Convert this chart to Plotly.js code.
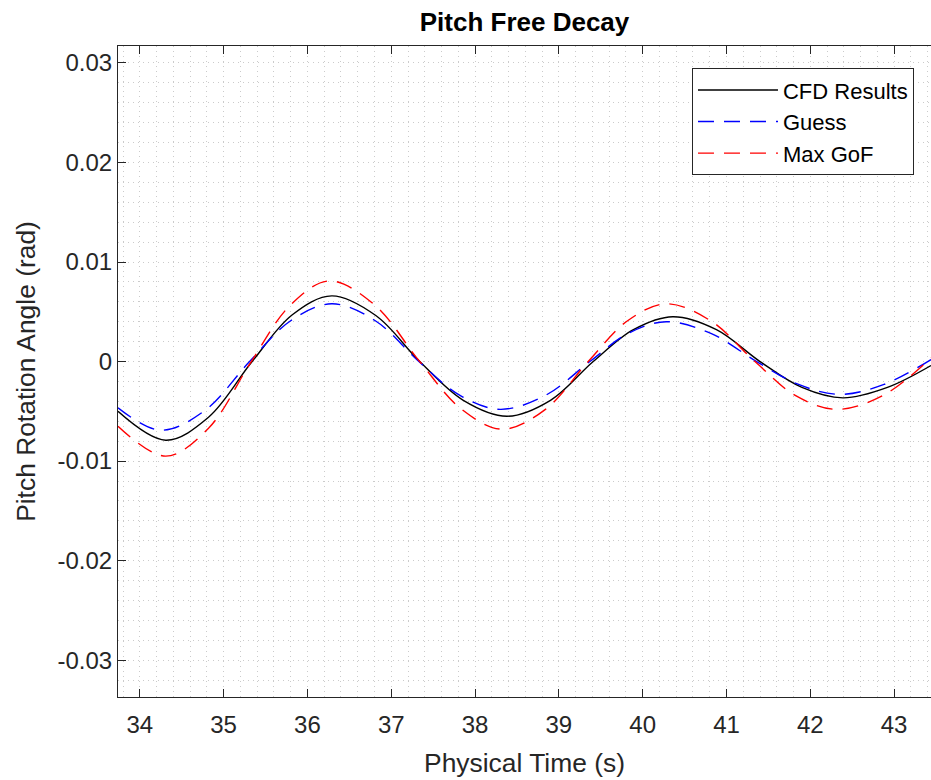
<!DOCTYPE html>
<html>
<head>
<meta charset="utf-8">
<script src="https://cdn.plot.ly/plotly-3.0.1.min.js"></script>
<style>html,body{margin:0;padding:0;background:#fff;}#chart{width:931px;height:780px;}</style>
</head>
<body>
<div id="chart"></div>
<script>
// Key points (time in s, angle in rad)
const tCFD = [33.74, 34.31, 34.82, 35.34, 35.82, 36.29, 36.82, 37.34, 37.86, 38.38, 38.90, 39.41, 39.89, 40.36, 40.88, 41.40, 41.90, 42.39, 42.92, 43.44];
const yCFD = [-0.0050, -0.0079, -0.0056, 0.0, 0.0047, 0.0066, 0.0046, 0.0, -0.0039, -0.0055, -0.0039, 0.0, 0.0032, 0.0045, 0.0032, 0.0, -0.0026, -0.00365, -0.0026, -0.0004];

const tGuess = [33.74, 34.25, 34.78, 35.31, 35.80, 36.29, 36.81, 37.33, 37.82, 38.30, 38.84, 39.37, 39.82, 40.28, 40.82, 41.36, 41.86, 42.35, 42.88, 43.44];
const yGuess = [-0.00465, -0.0069, -0.0049, 0.0, 0.0041, 0.0058, 0.0041, 0.0, -0.0034, -0.0048, -0.0034, 0.0, 0.0028, 0.0040, 0.0028, 0.0, -0.0023, -0.0033, -0.0023, 0.0002];

const tGoF = [33.74, 34.31, 34.82, 35.33, 35.80, 36.26, 36.80, 37.34, 37.84, 38.33, 38.84, 39.35, 39.82, 40.28, 40.81, 41.34, 41.82, 42.31, 42.87, 43.44];
const yGoF = [-0.0065, -0.0095, -0.0067, 0.0, 0.0057, 0.0081, 0.0057, 0.0, -0.0048, -0.0068, -0.0048, 0.0, 0.0041, 0.0058, 0.0041, 0.0, -0.0034, -0.0048, -0.0034, 0.00037];

const seriesNames = ["CFD Results", "Guess", "Max GoF"];

const xTickVals = [34, 35, 36, 37, 38, 39, 40, 41, 42, 43];
const xTickText = ["34", "35", "36", "37", "38", "39", "40", "41", "42", "43"];
const yTickVals = [-0.03, -0.02, -0.01, 0, 0.01, 0.02, 0.03];
const yTickText = ["-0.03", "-0.02", "-0.01", "0", "0.01", "0.02", "0.03"];

const FONT = "Liberation Sans, Arial, Helvetica, sans-serif";
const AX = "#262626";
const GRID = "#cbcbcb";
const DOTS = "1px,4px";

const traces = [
  {x: tCFD, y: yCFD, name: seriesNames[0], mode: "lines",
   line: {color: "#000000", width: 1.4, shape: "spline", smoothing: 1}},
  {x: tGuess, y: yGuess, name: seriesNames[1], mode: "lines",
   line: {color: "#0000ff", width: 1.4, dash: "16px,10px", shape: "spline", smoothing: 1}},
  {x: tGoF, y: yGoF, name: seriesNames[2], mode: "lines",
   line: {color: "#ff0000", width: 1.4, dash: "16px,10px", shape: "spline", smoothing: 1}}
];

const layout = {
  width: 931, height: 780,
  margin: {l: 118, r: 0, t: 46, b: 83, pad: 0},
  paper_bgcolor: "#ffffff", plot_bgcolor: "#ffffff",
  font: {family: FONT, color: AX, size: 24},
  title: {text: "<b>Pitch Free Decay</b>", font: {family: FONT, size: 26, color: "#000"},
          x: 0.5, xref: "paper", xanchor: "center", y: 1 - 22/780, yref: "container", yanchor: "middle"},
  showlegend: true,
  legend: {x: 0.706, y: 0.966, xanchor: "left", yanchor: "top",
           bgcolor: "#ffffff", bordercolor: AX, borderwidth: 1,
           font: {family: FONT, size: 22, color: "#000"}, itemwidth: 80, tracegroupgap: 0},
  xaxis: {
    range: [33.74, 43.44], tickmode: "array", tickvals: xTickVals, ticktext: xTickText,
    ticks: "inside", ticklen: 8, tickcolor: AX, tickwidth: 1, ticklabelstandoff: 6,
    showline: true, linecolor: AX, linewidth: 1, mirror: "ticks",
    showgrid: true, gridcolor: GRID, griddash: DOTS, gridwidth: 1, zeroline: false,
    tickfont: {family: FONT, size: 24, color: AX},
    title: {text: "Physical Time (s)", font: {family: FONT, size: 26.4, color: AX}, standoff: 16},
    minor: {tickmode: "linear", tick0: 0, dtick: 0.2, showgrid: true, gridcolor: GRID, griddash: DOTS, gridwidth: 1, ticks: ""}
  },
  yaxis: {
    range: [-0.0337, 0.0317], tickmode: "array", tickvals: yTickVals, ticktext: yTickText,
    ticks: "inside", ticklen: 8, tickcolor: AX, tickwidth: 1,
    showline: true, linecolor: AX, linewidth: 1, mirror: false,
    showgrid: true, gridcolor: GRID, griddash: DOTS, gridwidth: 1, zeroline: false,
    tickfont: {family: FONT, size: 24, color: AX},
    title: {text: "Pitch Rotation Angle (rad)", font: {family: FONT, size: 26.4, color: AX}, standoff: 14},
    minor: {tickmode: "linear", tick0: 0, dtick: 0.002, showgrid: true, gridcolor: GRID, griddash: DOTS, gridwidth: 1, ticks: ""}
  }
};

Plotly.newPlot("chart", traces, layout, {displayModeBar: false, responsive: false});
</script>
</body>
</html>
